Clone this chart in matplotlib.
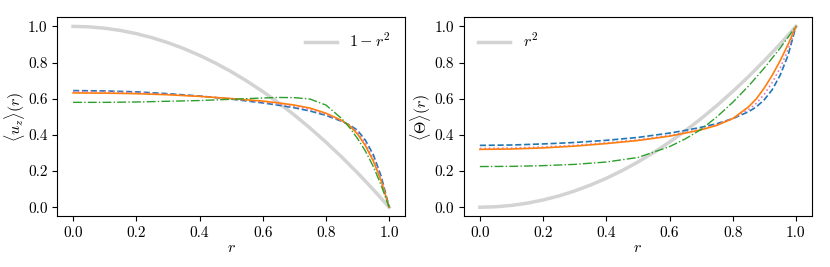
import numpy as np
import matplotlib
matplotlib.use("Agg")
import matplotlib.pyplot as plt

plt.rcParams['font.family'] = 'serif'
plt.rcParams['font.serif'] = ['cmr10']
plt.rcParams['mathtext.fontset'] = 'cm'
plt.rcParams['axes.formatter.use_mathtext'] = True
plt.rcParams['font.size'] = 11.5

# radial positions where values were read
r = [0.0, 0.1, 0.2, 0.3, 0.4, 0.5, 0.6, 0.65, 0.7, 0.75, 0.8, 0.85, 0.875, 0.9, 0.925, 0.95, 0.975, 1.0]
# finer positions for the grey reference curves
r_ref = [0.0, 0.05, 0.1, 0.15, 0.2, 0.25, 0.3, 0.35, 0.4, 0.45, 0.5, 0.55, 0.6, 0.65, 0.7, 0.75, 0.8, 0.85, 0.9, 0.95, 1.0]

# left panel: <u_z>(r)
uz_ref = [1.0, 0.9975, 0.99, 0.9775, 0.96, 0.9375, 0.91, 0.8775, 0.84, 0.7975, 0.75, 0.6975, 0.64, 0.5775, 0.51, 0.4375, 0.36, 0.2775, 0.19, 0.0975, 0.0]
uz_blue = [0.645, 0.643, 0.638, 0.628, 0.615, 0.598, 0.577, 0.564, 0.55, 0.532, 0.508, 0.475, 0.455, 0.425, 0.37, 0.29, 0.17, 0.0]
uz_pink = [0.64, 0.638, 0.634, 0.625, 0.614, 0.6, 0.582, 0.57, 0.557, 0.54, 0.514, 0.478, 0.452, 0.415, 0.355, 0.27, 0.155, 0.0]
uz_orange = [0.632, 0.631, 0.628, 0.622, 0.613, 0.601, 0.587, 0.577, 0.565, 0.548, 0.52, 0.48, 0.45, 0.405, 0.34, 0.255, 0.145, 0.0]
uz_green = [0.58, 0.58, 0.582, 0.586, 0.59, 0.597, 0.604, 0.607, 0.606, 0.598, 0.565, 0.49, 0.44, 0.38, 0.31, 0.225, 0.12, 0.0]

# right panel: <Theta>(r)
th_ref = [0.0, 0.0025, 0.01, 0.0225, 0.04, 0.0625, 0.09, 0.1225, 0.16, 0.2025, 0.25, 0.3025, 0.36, 0.4225, 0.49, 0.5625, 0.64, 0.7225, 0.81, 0.9025, 1.0]
th_blue = [0.342, 0.344, 0.35, 0.358, 0.37, 0.386, 0.41, 0.425, 0.442, 0.462, 0.49, 0.528, 0.555, 0.595, 0.65, 0.73, 0.84, 1.0]
th_pink = [0.325, 0.327, 0.333, 0.342, 0.356, 0.372, 0.397, 0.413, 0.432, 0.456, 0.49, 0.54, 0.575, 0.625, 0.69, 0.77, 0.87, 1.0]
th_orange = [0.32, 0.322, 0.328, 0.338, 0.352, 0.369, 0.393, 0.41, 0.428, 0.453, 0.49, 0.555, 0.6, 0.66, 0.73, 0.81, 0.9, 1.0]
th_green = [0.225, 0.226, 0.23, 0.237, 0.25, 0.275, 0.335, 0.378, 0.43, 0.5, 0.58, 0.67, 0.72, 0.77, 0.825, 0.88, 0.94, 1.0]

ticks = [0.0, 0.2, 0.4, 0.6, 0.8, 1.0]
tick_labels = ['0.0', '0.2', '0.4', '0.6', '0.8', '1.0']

fig, axs = plt.subplots(1, 2, figsize=(8.3, 2.67), dpi=100)
fig.subplots_adjust(left=0.069, right=0.978, bottom=0.19, top=0.935, wspace=0.17)

ax = axs[0]
ax.plot(r_ref, uz_ref, color='lightgray', lw=2.5, label=r'$1-r^2$')
ax.plot(r, uz_blue, color='tab:blue', ls='--', lw=1.2)
ax.plot(r, uz_pink, color='tab:pink', ls=':', lw=1.2)
ax.plot(r, uz_orange, color='tab:orange', ls='-', lw=1.2)
ax.plot(r, uz_green, color='tab:green', ls='-.', lw=1.0)
ax.set_xlabel(r'$r$', labelpad=1)
ax.set_ylabel(r'$\langle u_z\rangle(r)$', labelpad=1)
ax.legend(loc='upper right', frameon=False)

ax = axs[1]
ax.plot(r_ref, th_ref, color='lightgray', lw=2.5, label=r'$r^2$')
ax.plot(r, th_blue, color='tab:blue', ls='--', lw=1.2)
ax.plot(r, th_pink, color='tab:pink', ls=':', lw=1.2)
ax.plot(r, th_orange, color='tab:orange', ls='-', lw=1.2)
ax.plot(r, th_green, color='tab:green', ls='-.', lw=1.0)
ax.set_xlabel(r'$r$', labelpad=1)
ax.set_ylabel(r'$\langle\Theta\rangle(r)$', labelpad=1)
ax.legend(loc='upper left', frameon=False)

for ax in axs:
    ax.set_xticks(ticks)
    ax.set_yticks(ticks)
    ax.set_xticklabels(tick_labels)
    ax.set_yticklabels(tick_labels)
    ax.tick_params(labelsize=11)
    ax.set_xlim(-0.05, 1.05)
    ax.set_ylim(-0.05, 1.05)

plt.savefig('out.png', dpi=100)
